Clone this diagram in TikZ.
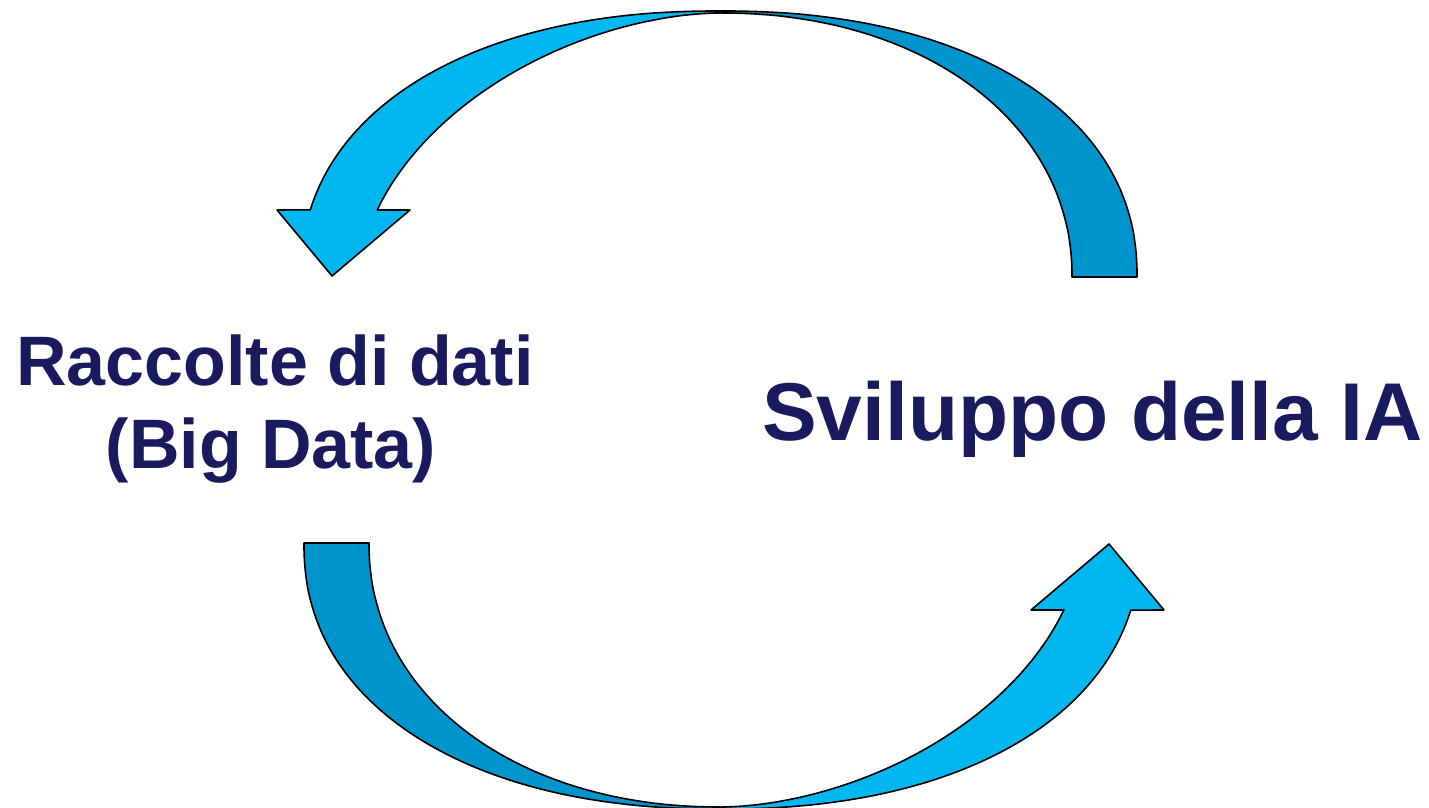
\documentclass[tikz,border=0pt]{standalone}
\usepackage{fontspec}
\setmainfont{Liberation Sans}
\definecolor{lightblue}{RGB}{0,183,240}
\definecolor{darkblue}{RGB}{0,148,204}
\definecolor{navy}{RGB}{26,26,94}
\tikzset{
  front/.style={fill=lightblue, draw=black, line width=1.6pt, line join=round},
  back/.style={fill=darkblue, draw=black, line width=1.6pt, line join=round},
  label/.style={text=navy, inner sep=0pt, anchor=base},
  edge/.style={samples=70, variable=\t, smooth}
}
\newcommand{\cyclearrow}{%
  \path[back] (1137,531)
     -- plot[edge, domain=0.1:89.9] ({720+417*pow(cos(\t),0.909)}, {531+266*pow(sin(\t),0.909)})
     -- (720,797)
     -- plot[edge, domain=89.9:0.1] ({720+352*pow(cos(\t),0.952)}, {531+264*pow(sin(\t),0.952)})
     -- (1072,531) -- cycle;
  \path[front] (720,797)
     -- plot[edge, domain=89.9:12.7] ({720-419*pow(cos(\t),0.909)}, {531+266*pow(sin(\t),0.909)})
     -- (277,598) -- (332,532) -- (410,598) -- (377,598)
     -- plot[edge, domain=16.9:89.9] ({720-360*pow(cos(\t),1.111)}, {531+264*pow(sin(\t),1.111)})
     -- cycle;
}
\begin{document}
\begin{tikzpicture}[x=1pt,y=1pt]
\useasboundingbox (0,0) rectangle (1429,808);
\cyclearrow
\begin{scope}[rotate around={180:(720.5,398)}]
\cyclearrow
\end{scope}
\node[label, font=\bfseries\fontsize{70}{84}\selectfont] (raccolte) at (275,422) {Raccolte di dati};
\node[label, font=\bfseries\fontsize{70}{84}\selectfont] (bigdata) at (271,339) {(Big Data)};
\node[label, font=\bfseries\fontsize{82}{98}\selectfont, anchor=base west] (sviluppo) at (762,367) {Sviluppo della IA};
\end{tikzpicture}
\end{document}
